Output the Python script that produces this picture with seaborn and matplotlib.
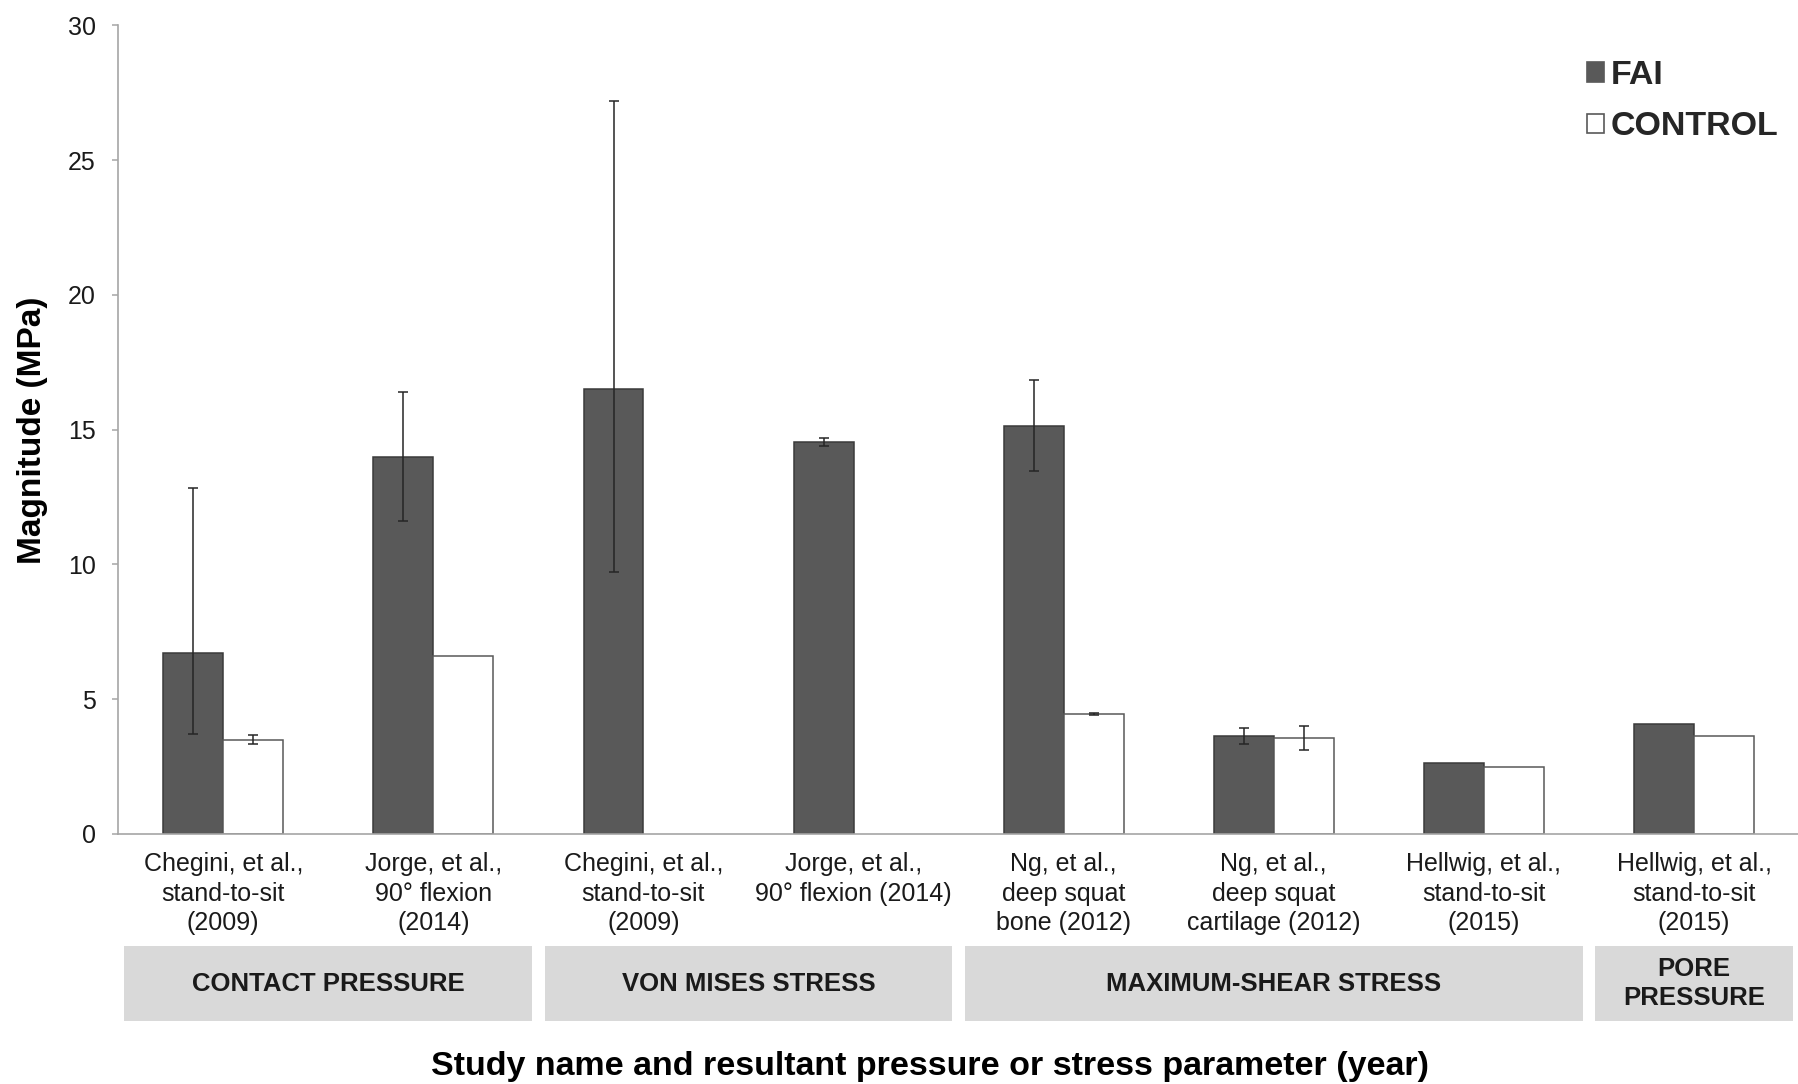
import numpy as np
import pandas as pd
import matplotlib
matplotlib.use("Agg")
import matplotlib.pyplot as plt
import matplotlib.transforms as mtransforms
from matplotlib.patches import Rectangle
import seaborn as sns

# ---------------- data ----------------
categories = [
    "Chegini, et al.,\nstand-to-sit\n(2009)",
    "Jorge, et al.,\n90° flexion\n(2014)",
    "Chegini, et al.,\nstand-to-sit\n(2009)",
    "Jorge, et al.,\n90° flexion (2014)",
    "Ng, et al.,\ndeep squat\nbone (2012)",
    "Ng, et al.,\ndeep squat\ncartilage (2012)",
    "Hellwig, et al.,\nstand-to-sit\n(2015)",
    "Hellwig, et al.,\nstand-to-sit\n(2015)",
]
fai_values = [6.7, 14.0, 16.5, 14.55, 15.15, 3.62, 2.62, 4.09]
fai_err_low = [3.0, 2.4, 6.8, 0.15, 1.7, 0.3, np.nan, np.nan]
fai_err_high = [6.15, 2.4, 10.7, 0.15, 1.7, 0.3, np.nan, np.nan]
control_values = [3.5, 6.6, np.nan, np.nan, 4.45, 3.56, 2.49, 3.62]
control_err_low = [0.17, np.nan, np.nan, np.nan, 0.05, 0.46, np.nan, np.nan]
control_err_high = [0.17, np.nan, np.nan, np.nan, 0.05, 0.46, np.nan, np.nan]
series = ["FAI", "CONTROL"]
groups = ["CONTACT PRESSURE", "VON MISES STRESS", "MAXIMUM-SHEAR STRESS", "PORE\nPRESSURE"]
group_spans = [(0, 1), (2, 3), (4, 6), (7, 7)]
y_ticks = [0, 5, 10, 15, 20, 25, 30]

# ---------------- style ----------------
sns.set_theme(style="white")
plt.rcParams["font.family"] = ["Liberation Sans", "DejaVu Sans"]

fai_color = "#595959"
ctrl_color = "#ffffff"
axis_gray = "#a6a6a6"
text_col = "#1a1a1a"

keys = [f"c{i}" for i in range(len(categories))]
df = pd.DataFrame({
    "cat": keys * 2,
    "series": ["FAI"] * len(keys) + ["CONTROL"] * len(keys),
    "value": fai_values + control_values,
})

fig = plt.figure(figsize=(17.99, 10.84), dpi=100)
ax = fig.add_axes([0.0657, 0.2307, 1.0 - 0.0657, 0.9767 - 0.2307])

sns.barplot(data=df.dropna(), x="cat", y="value", hue="series", order=keys,
            hue_order=series, palette={"FAI": fai_color, "CONTROL": ctrl_color},
            width=0.57, errorbar=None, ax=ax, saturation=1)

# edges
for cont, ec in zip(ax.containers, ["#3a3a3a", "#595959"]):
    for bar in cont:
        bar.set_edgecolor(ec)
        bar.set_linewidth(1.1)

# error bars
err_low = {"FAI": fai_err_low, "CONTROL": control_err_low}
err_high = {"FAI": fai_err_high, "CONTROL": control_err_high}
for cont, s in zip(ax.containers, series):
    for bar in cont:
        cx = bar.get_x() + bar.get_width() / 2
        idx = int(round(cx))
        lo = err_low[s][idx]
        hi = err_high[s][idx]
        if np.isnan(lo):
            continue
        ax.errorbar(cx, bar.get_height(), yerr=[[lo], [hi]], fmt="none",
                    ecolor="#262626", elinewidth=1.1, capsize=3.5, capthick=1.1)

ax.set_xlim(-0.5, len(categories) - 0.5)
ax.set_ylim(0, 30)
ax.set_yticks(y_ticks)
ax.set_yticklabels([str(t) for t in y_ticks], fontsize=18, color=text_col)
ax.set_xticks(range(len(categories)))
ax.set_xticklabels(categories, fontsize=18, color=text_col, linespacing=1.3)
ax.set_xticks(np.arange(-0.5, len(categories)), minor=True)
ax.tick_params(axis="x", which="major", length=0, pad=13)
ax.tick_params(axis="x", which="minor", length=8, width=1.1, color=axis_gray, direction="out")
ax.tick_params(axis="y", length=4, width=1.1, color=axis_gray, direction="out", left=True, pad=12)
ax.set_xlabel("")
ax.set_ylabel("")
for side in ["top", "right"]:
    ax.spines[side].set_visible(False)
for side in ["left", "bottom"]:
    ax.spines[side].set_color(axis_gray)
    ax.spines[side].set_linewidth(1.2)

# legend
handles, labels = ax.get_legend_handles_labels()
if ax.get_legend() is not None:
    ax.get_legend().remove()
for h in handles:
    h.set_edgecolor("#595959")
    h.set_linewidth(1.2)
fig.legend(handles, labels, loc="upper left", bbox_to_anchor=(0.865, 0.973),
           frameon=False, handlelength=0.5, handleheight=0.5, handletextpad=0.2,
           labelspacing=0.6, prop={"weight": "bold", "size": 24.5})

# group boxes
trans = mtransforms.blended_transform_factory(ax.transData, fig.transFigure)
box_bottom, box_top = 0.058, 0.127
pad = 0.03
for label, (a, b) in zip(groups, group_spans):
    x0 = a - 0.5 + pad
    x1 = b + 0.5 - pad
    rect = Rectangle((x0, box_bottom), x1 - x0, box_top - box_bottom,
                     transform=trans, facecolor="#d9d9d9", edgecolor="none",
                     clip_on=False)
    fig.add_artist(rect)
    fig.text((x0 + x1) / 2, (box_top + box_bottom) / 2, label, transform=trans,
             ha="center", va="center", fontsize=18.5, fontweight="bold",
             color=text_col, linespacing=1.27)

fig.text(0.517, 0.016, "Study name and resultant pressure or stress parameter (year)",
         ha="center", va="center", fontsize=24.5, fontweight="bold", color="#000000")
fig.text(0.018, 0.603, "Magnitude (MPa)", ha="center", va="center", rotation=90,
         fontsize=24, fontweight="bold", color="#000000")

fig.savefig("out.png", dpi=100)
